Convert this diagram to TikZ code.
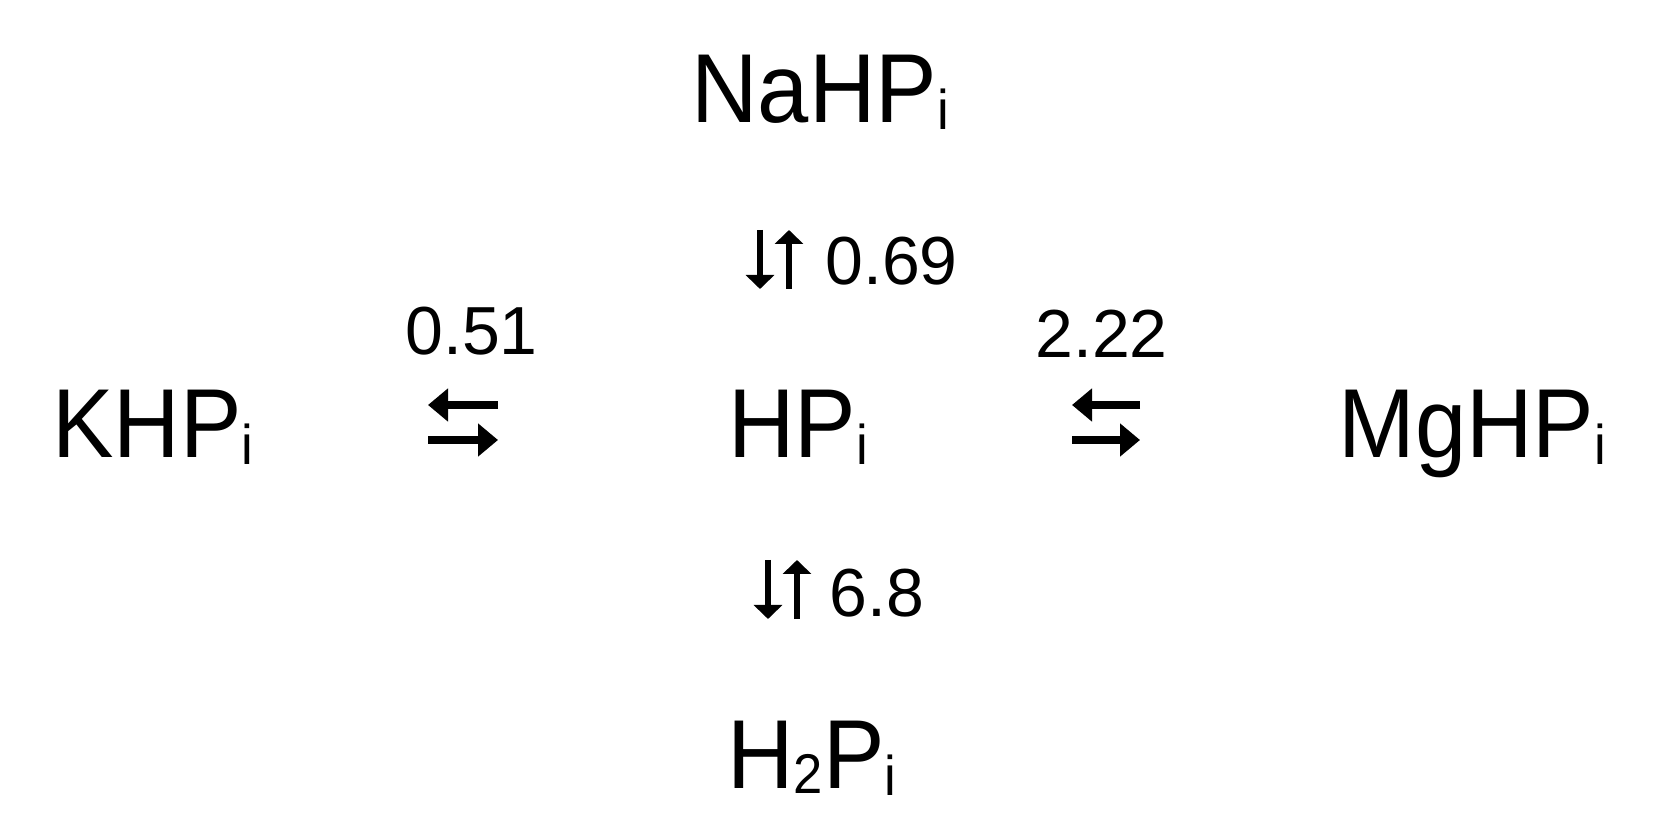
\documentclass[tikz,border=0pt]{standalone}
\usepackage{fontspec}
\setmainfont{Liberation Sans}
\newfontfamily\spfont[FakeStretch=0.94]{Liberation Sans}
\usetikzlibrary{arrows.meta}
\newcommand{\subi}{\raisebox{-3.5pt}{\fontsize{28}{28}\selectfont i}}
\newcommand{\subtwo}{\raisebox{-2.5pt}{\fontsize{28}{28}\selectfont 2}}
\begin{document}
\begin{tikzpicture}[x=0.5pt,y=-0.5pt,
  species/.style={anchor=base west,inner sep=0pt,font=\spfont\fontsize{49}{49}\selectfont},
  kval/.style={anchor=base west,inner sep=0pt,font=\fontsize{34}{34}\selectfont},
  harrow/.style={line width=4pt,-{Triangle[length=10pt,width=16pt]}},
  varrow/.style={line width=3.2pt,-{Triangle[length=7pt,width=14pt]}}]
\useasboundingbox (0,0) rectangle (1654,833);
\node[species] (k) at (52,458) {KHP\subi};
\node[species] (hp) at (728,458) {HP\subi};
\node[species] (mg) at (1338,458) {MgHP\subi};
\node[species] (na) at (691,123) {NaHP\subi};
\node[species] (h2) at (727,788) {H\subtwo P\subi};
\node[kval] (l069) at (825,285) {0.69};
\node[kval] (l68) at (829,617) {6.8};
\node[kval] (l051) at (405,355) {0.51};
\node[kval] (l222) at (1035,358) {2.22};
% horizontal equilibrium arrows (left)
\coordinate (kl1) at (498,405); \coordinate (kl2) at (428,405);
\coordinate (kr1) at (428,440); \coordinate (kr2) at (498,440);
\draw[harrow] (kl1) -- (kl2);
\draw[harrow] (kr1) -- (kr2);
% horizontal equilibrium arrows (right)
\coordinate (ml1) at (1140,405); \coordinate (ml2) at (1072,405);
\coordinate (mr1) at (1072,440); \coordinate (mr2) at (1140,440);
\draw[harrow] (ml1) -- (ml2);
\draw[harrow] (mr1) -- (mr2);
% vertical arrows (top)
\coordinate (nd1) at (760,230); \coordinate (nd2) at (760,289);
\coordinate (nu1) at (789,289); \coordinate (nu2) at (789,230);
\draw[varrow] (nd1) -- (nd2);
\draw[varrow] (nu1) -- (nu2);
% vertical arrows (bottom)
\coordinate (hd1) at (768,560); \coordinate (hd2) at (768,619);
\coordinate (hu1) at (797,619); \coordinate (hu2) at (797,560);
\draw[varrow] (hd1) -- (hd2);
\draw[varrow] (hu1) -- (hu2);
\end{tikzpicture}
\end{document}
